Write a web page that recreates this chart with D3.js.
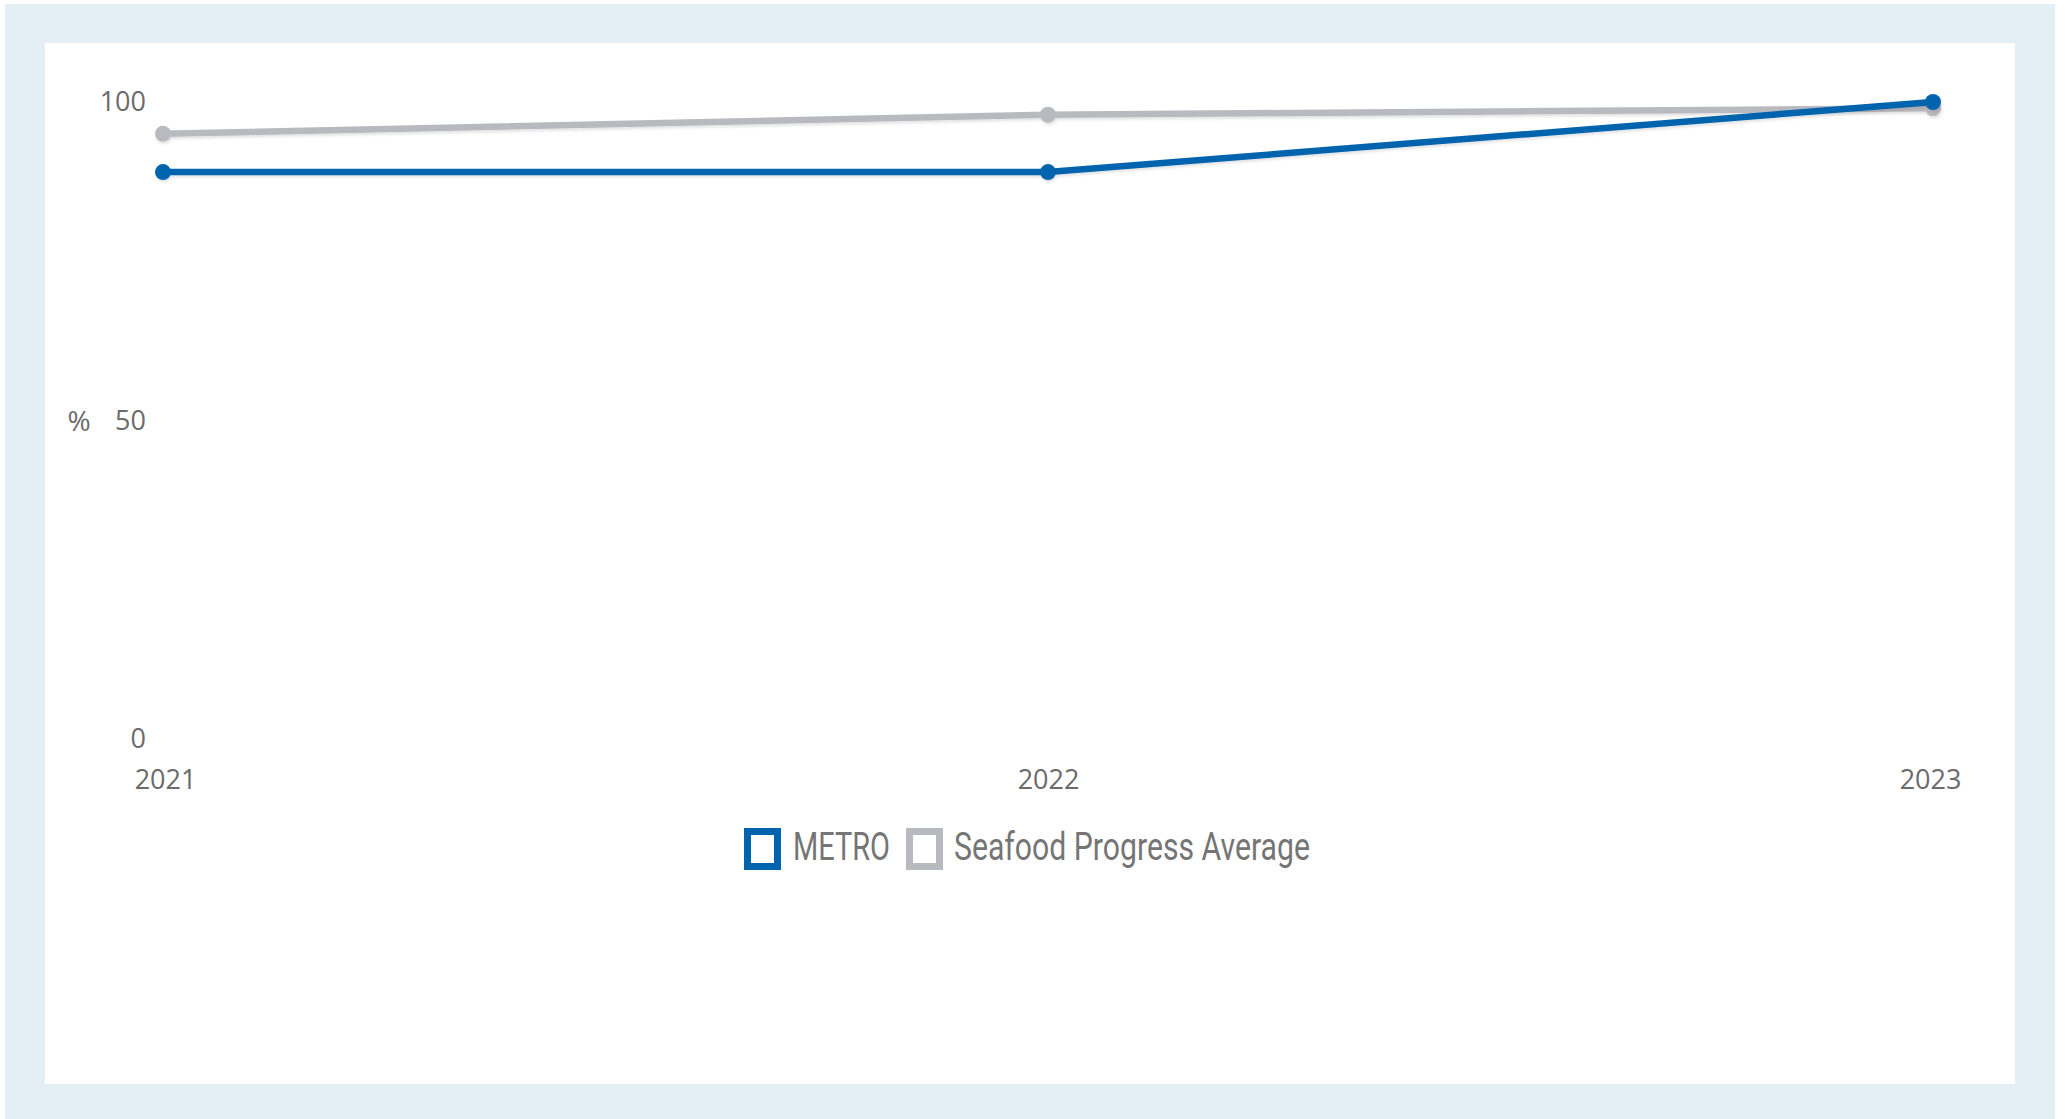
<!DOCTYPE html>
<html>
<head>
<meta charset="utf-8">
<script src="https://cdn.jsdelivr.net/npm/d3@7"></script>
<style>
  html, body { margin: 0; padding: 0; background: #ffffff; }
  svg { display: block; }
</style>
</head>
<body>
<svg id="chart" width="2069" height="1119"></svg>
<script>
const years = [2021, 2022, 2023];
const metroValues = [89, 89, 100];
const seafoodAverageValues = [95, 98, 99];
const yTicks = [0, 50, 100];
const seriesNames = ["METRO", "Seafood Progress Average"];
const seriesColors = ["#0063ad", "#b9b9c0"];

const svg = d3.select("#chart");

// frame
svg.append("rect").attr("x", 5).attr("y", 4).attr("width", 2050).attr("height", 1115).attr("fill", "#e3eef5");
svg.append("rect").attr("x", 45).attr("y", 43).attr("width", 1970).attr("height", 1041).attr("fill", "#ffffff");

const x = d3.scalePoint().domain(years).range([163, 1933]);
const y = d3.scaleLinear().domain([0, 100]).range([739, 102]);

const defs = svg.append("defs");
const f = defs.append("filter").attr("id", "shadow").attr("x", "-5%").attr("y", "-50%").attr("width", "110%").attr("height", "200%");
f.append("feDropShadow").attr("dx", 1).attr("dy", 2).attr("stdDeviation", 1.5).attr("flood-color", "#000").attr("flood-opacity", 0.12);

// y axis
const yAxis = d3.axisLeft(y).tickValues(yTicks).tickSize(0).tickPadding(0);
const gy = svg.append("g").attr("transform", "translate(146,0)").call(yAxis);
gy.select(".domain").remove();
gy.selectAll("text")
  .attr("font-family", "'Open Sans', sans-serif")
  .attr("font-size", 27)
  .attr("fill", "#6b6b6b");

svg.append("text").attr("x", 79).attr("y", 421).attr("dy", "0.35em")
  .attr("text-anchor", "middle")
  .attr("font-family", "'Open Sans', sans-serif").attr("font-size", 28).attr("fill", "#6b6b6b")
  .text("%");

// x axis
const xAxis = d3.axisBottom(x).tickSize(0).tickPadding(0).tickFormat(d3.format("d"));
const gx = svg.append("g").attr("transform", "translate(0,770)").call(xAxis);
gx.select(".domain").remove();
gx.selectAll("text")
  .attr("font-family", "'Open Sans', sans-serif")
  .attr("font-size", 27)
  .attr("fill", "#6b6b6b");
gx.selectAll(".tick").filter(d => d === years[0]).select("text").attr("dx", 2);
gx.selectAll(".tick").filter(d => d === years[years.length - 1]).select("text").attr("dx", -3);

// series
const series = [
  { name: seriesNames[1], values: seafoodAverageValues, color: seriesColors[1] },
  { name: seriesNames[0], values: metroValues, color: seriesColors[0] }
];
const line = d3.line().x((d, i) => x(years[i])).y(d => y(d));

series.forEach(s => {
  const g = svg.append("g").attr("filter", "url(#shadow)");
  g.append("path").datum(s.values)
    .attr("d", line)
    .attr("fill", "none")
    .attr("stroke", s.color)
    .attr("stroke-width", 6.5)
    .attr("stroke-linejoin", "round");
  g.selectAll("circle").data(s.values).join("circle")
    .attr("cx", (d, i) => x(years[i]))
    .attr("cy", d => y(d))
    .attr("r", 8)
    .attr("fill", s.color);
});

// legend
const legendItems = [
  { name: seriesNames[0], color: seriesColors[0], sx: 747.5, tx: 793, tw: 97 },
  { name: seriesNames[1], color: seriesColors[1], sx: 909.5, tx: 954, tw: 356 }
];
const lg = svg.append("g");
legendItems.forEach(it => {
  lg.append("rect").attr("x", it.sx).attr("y", 831.5).attr("width", 30).attr("height", 35)
    .attr("fill", "#ffffff").attr("stroke", it.color).attr("stroke-width", 7);
  lg.append("text").attr("x", it.tx).attr("y", 860)
    .attr("font-family", "'Liberation Sans Narrow', 'Roboto', sans-serif")
    .attr("font-size", 38)
    .attr("fill", "#757575")
    .attr("textLength", it.tw)
    .attr("lengthAdjust", "spacingAndGlyphs")
    .text(it.name);
});
</script>
</body>
</html>
